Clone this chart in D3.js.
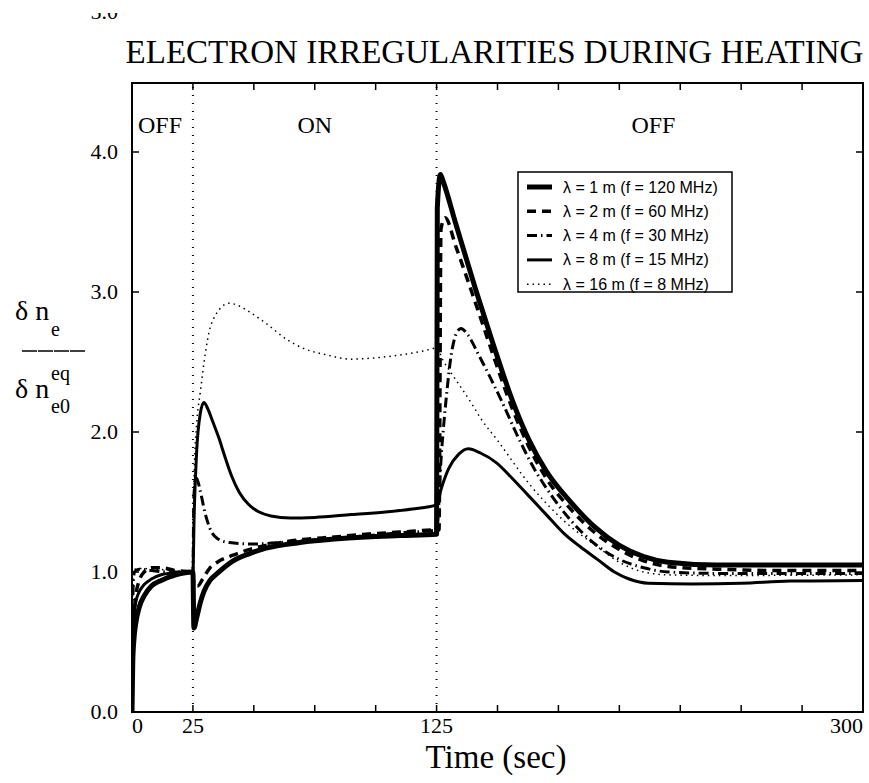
<!DOCTYPE html>
<html>
<head>
<meta charset="utf-8">
<script src="https://cdn.jsdelivr.net/npm/d3@7"></script>
<style>
  body { margin: 0; background: #fff; }
  svg { display: block; }
</style>
</head>
<body>
<div id="view"></div>
<script>
'use strict';

// time (sec) / dn_e / dn_e0^eq
const lambda1 = [[0, 0], [0.3, 0.35], [0.8, 0.52], [1.5, 0.63], [3, 0.75], [5, 0.83], [8, 0.9], [12, 0.94], [18, 0.98], [25, 1.0],
  [25.4, 0.6], [26.5, 0.67], [28, 0.78], [29.5, 0.86], [32, 0.94], [35, 0.99], [41.5, 1.08], [48, 1.13], [55, 1.17], [69, 1.21],
  [83, 1.235], [96, 1.25], [110, 1.26], [125, 1.27],
  [125.3, 3.6], [126.6, 3.84], [127.5, 3.8], [133, 3.48], [141, 3.02], [148, 2.64], [156, 2.23], [163, 1.94], [170, 1.72],
  [180, 1.5], [190, 1.32], [200, 1.19], [210, 1.11], [220, 1.07], [240, 1.05], [270, 1.05], [300, 1.05]];

const lambda2 = [[0, 0], [0.3, 0.45], [0.8, 0.68], [1.5, 0.82], [3, 0.94], [5, 1.0], [8, 1.03], [12, 1.03], [18, 1.01], [25, 1.0],
  [25.4, 0.9], [27, 0.9], [29, 0.95], [32, 1.03], [35, 1.07], [41.5, 1.12], [48, 1.16], [55, 1.19], [69, 1.23], [83, 1.25],
  [96, 1.27], [110, 1.285], [125, 1.3],
  [126, 1.3], [126.8, 3.45], [128.5, 3.53], [133, 3.32], [141, 2.92], [148, 2.56], [156, 2.17], [163, 1.89], [170, 1.67],
  [180, 1.45], [190, 1.28], [200, 1.16], [210, 1.08], [220, 1.04], [240, 1.02], [270, 1.01], [300, 1.01]];

const lambda4 = [[0, 0], [0.2, 0.6], [0.5, 0.9], [1, 1.0], [3, 1.02], [8, 1.01], [15, 1.0], [25, 1.0],
  [25.4, 1.55], [26.5, 1.67], [28, 1.58], [30, 1.42], [32, 1.31], [35, 1.24], [40, 1.21], [50, 1.2], [60, 1.21], [75, 1.23],
  [90, 1.25], [110, 1.28], [125, 1.3],
  [127, 1.85], [129, 2.25], [131, 2.55], [133, 2.7], [135, 2.74], [138, 2.69], [142, 2.56], [147, 2.39], [152, 2.21],
  [158, 1.98], [165, 1.74], [172, 1.55], [180, 1.37], [190, 1.2], [200, 1.09], [210, 1.03], [220, 1.0], [240, 0.99], [300, 0.99]];

const lambda8 = [[0, 0], [0.3, 0.5], [0.8, 0.68], [1.5, 0.78], [3, 0.86], [5, 0.91], [8, 0.95], [12, 0.98], [18, 0.995], [25, 1.0],
  [25.5, 1.4], [26.5, 1.85], [28, 2.13], [29.5, 2.21], [31, 2.17], [33, 2.08], [35.6, 1.96], [38, 1.83], [41, 1.68], [44, 1.57],
  [48, 1.48], [52, 1.43], [57, 1.4], [65, 1.385], [75, 1.39], [90, 1.41], [105, 1.43], [115, 1.45], [125, 1.48],
  [127, 1.6], [130, 1.74], [134, 1.84], [138, 1.88], [143, 1.85], [149.6, 1.78], [156, 1.67], [163, 1.54], [170, 1.41],
  [177, 1.28], [184, 1.18], [191, 1.09], [198, 1.0], [204, 0.95], [212, 0.92], [230, 0.915], [250, 0.92], [270, 0.935], [300, 0.94]];

const lambda16 = [[0, 0], [0.2, 0.7], [0.5, 0.95], [1, 1.02], [4, 1.025], [10, 1.02], [18, 1.01], [25, 1.0],
  [25.5, 1.7], [26.5, 2.05], [28, 2.28], [30, 2.55], [31.7, 2.72], [33.5, 2.81], [35.6, 2.87], [39.8, 2.92], [44, 2.9],
  [48, 2.86], [54.7, 2.78], [63.6, 2.66], [70, 2.6], [80, 2.55], [90, 2.52], [100, 2.53], [110, 2.55], [120, 2.58], [125, 2.6],
  [127.7, 2.51], [133, 2.37], [139.5, 2.2], [143, 2.1], [150, 1.94], [163, 1.63], [177, 1.37], [191, 1.18], [201, 1.06],
  [210, 1.0], [220, 0.98], [240, 0.975], [300, 0.98]];

const legendLabels = ['λ = 1 m (f = 120 MHz)', 'λ = 2 m (f = 60 MHz)', 'λ = 4 m (f = 30 MHz)',
  'λ = 8 m (f = 15 MHz)', 'λ = 16 m (f = 8 MHz)'];
const xTicks = [0, 25, 50, 75, 100, 125, 150, 175, 200, 225, 250, 275, 300];
const xTickLabels = [0, 25, 125, 300];
const yTicks = [0, 1, 2, 3, 4, 5];
const phaseTimes = [25, 125];
const phaseLabels = [['OFF', 0], ['ON', 75], ['OFF', 214]];

const size = { w: 869, h: 783 };
const frame = { left: 132, right: 863, top: 83, bottom: 712 };

// one style per series, same order as the legend
const styles = [
  { width: 5, dash: null },
  { width: 3.5, dash: '9,6' },
  { width: 3, dash: '10,4,1.5,4' },
  { width: 3, dash: null },
  { width: 1.5, dash: '1.5,4' }
];
const series = [lambda1, lambda2, lambda4, lambda8, lambda16];

const x = d3.scaleLinear().domain([0, 300]).range([frame.left, frame.right]);
const y = d3.scaleLinear().domain([0, 5]).range([frame.bottom, 12]);

const serif = '"Liberation Serif", "Times New Roman", serif';
const sans = '"Liberation Sans", Arial, sans-serif';

const svg = d3.select('#view').append('svg')
  .attr('width', size.w)
  .attr('height', size.h);

const defs = svg.append('defs');
defs.append('clipPath').attr('id', 'plotClip')
  .append('rect')
  .attr('x', frame.left).attr('y', frame.top)
  .attr('width', frame.right - frame.left).attr('height', frame.bottom - frame.top);
defs.append('clipPath').attr('id', 'topClip')
  .append('rect')
  .attr('x', 0).attr('y', 13).attr('width', frame.left).attr('height', frame.bottom);

// title
svg.append('text')
  .attr('x', 494.5).attr('y', 63)
  .attr('text-anchor', 'middle')
  .attr('font-family', serif).attr('font-size', 33)
  .text('ELECTRON IRREGULARITIES DURING HEATING');

// phase separators
svg.selectAll('line.phase')
  .data(phaseTimes)
  .enter()
  .append('line')
  .attr('class', 'phase')
  .attr('x1', d => x(d)).attr('x2', d => x(d))
  .attr('y1', frame.bottom).attr('y2', frame.top)
  .attr('stroke', '#000').attr('stroke-width', 2)
  .attr('stroke-dasharray', '1,7');

svg.selectAll('text.phase')
  .data(phaseLabels)
  .enter()
  .append('text')
  .attr('class', 'phase')
  .attr('x', d => d[1] === 0 ? frame.left + 6 : x(d[1]))
  .attr('y', 133)
  .attr('text-anchor', d => d[1] === 0 ? 'start' : 'middle')
  .attr('font-family', serif).attr('font-size', 24)
  .text(d => d[0]);

// curves
const line = d3.line()
  .x(d => x(d[0]))
  .y(d => y(d[1]))
  .curve(d3.curveMonotoneX);

const gCurves = svg.append('g').attr('clip-path', 'url(#plotClip)');
gCurves.selectAll('path')
  .data(series)
  .enter()
  .append('path')
  .attr('d', line)
  .attr('fill', 'none')
  .attr('stroke', '#000')
  .attr('stroke-width', (d, i) => styles[i].width)
  .attr('stroke-dasharray', (d, i) => styles[i].dash)
  .attr('stroke-linejoin', 'round');

// frame and ticks
svg.append('rect')
  .attr('x', frame.left).attr('y', frame.top)
  .attr('width', frame.right - frame.left).attr('height', frame.bottom - frame.top)
  .attr('fill', 'none').attr('stroke', '#000').attr('stroke-width', 2);

const tickLen = 7;
const gTicks = svg.append('g').attr('stroke', '#000').attr('stroke-width', 1.5);
xTicks.forEach(t => {
  gTicks.append('line').attr('x1', x(t)).attr('x2', x(t)).attr('y1', frame.bottom).attr('y2', frame.bottom - tickLen);
  gTicks.append('line').attr('x1', x(t)).attr('x2', x(t)).attr('y1', frame.top).attr('y2', frame.top + tickLen);
});
yTicks.filter(v => y(v) > frame.top).forEach(v => {
  gTicks.append('line').attr('x1', frame.left).attr('x2', frame.left + tickLen).attr('y1', y(v)).attr('y2', y(v));
  gTicks.append('line').attr('x1', frame.right).attr('x2', frame.right - tickLen).attr('y1', y(v)).attr('y2', y(v));
});

svg.selectAll('text.xtick')
  .data(xTickLabels)
  .enter()
  .append('text')
  .attr('class', 'xtick')
  .attr('x', d => x(d))
  .attr('y', 733)
  .attr('text-anchor', d => d === 0 ? 'start' : d === 300 ? 'end' : 'middle')
  .attr('font-family', serif).attr('font-size', 22)
  .text(d => d);

svg.append('g').attr('clip-path', 'url(#topClip)')
  .selectAll('text')
  .data(yTicks)
  .enter()
  .append('text')
  .attr('x', 118)
  .attr('y', d => y(d))
  .attr('dy', '0.33em')
  .attr('text-anchor', 'end')
  .attr('font-family', serif).attr('font-size', 22)
  .text(d => d.toFixed(1));

// axis titles
svg.append('text')
  .attr('x', 496).attr('y', 768)
  .attr('text-anchor', 'middle')
  .attr('font-family', serif).attr('font-size', 33)
  .text('Time (sec)');

const gYLabel = svg.append('g').attr('font-family', serif);
gYLabel.append('text').attr('x', 15).attr('y', 320).attr('font-size', 28).text('δ n');
gYLabel.append('text').attr('x', 51).attr('y', 336).attr('font-size', 20).text('e');
// fraction bar, drawn as four short strokes
gYLabel.append('line')
  .attr('x1', 22).attr('x2', 86).attr('y1', 351).attr('y2', 351)
  .attr('stroke', '#000').attr('stroke-width', 1.6)
  .attr('stroke-dasharray', '15,1');
gYLabel.append('text').attr('x', 15).attr('y', 398).attr('font-size', 28).text('δ n');
gYLabel.append('text').attr('x', 51).attr('y', 380).attr('font-size', 20).text('eq');
gYLabel.append('text').attr('x', 51).attr('y', 413).attr('font-size', 20).text('e0');

// legend
const legend = { x: 518, y: 172, w: 214, h: 120, row0: 187, rowH: 24.3, x1: 527, x2: 552, xText: 563 };
const gLegend = svg.append('g');
gLegend.append('rect')
  .attr('x', legend.x).attr('y', legend.y)
  .attr('width', legend.w).attr('height', legend.h)
  .attr('fill', '#fff').attr('stroke', '#000').attr('stroke-width', 1.5);

legendLabels.forEach((label, i) => {
  const yRow = legend.row0 + i * legend.rowH;
  gLegend.append('line')
    .attr('x1', legend.x1).attr('x2', legend.x2)
    .attr('y1', yRow).attr('y2', yRow)
    .attr('stroke', '#000')
    .attr('stroke-width', styles[i].width)
    .attr('stroke-dasharray', styles[i].dash);
  gLegend.append('text')
    .attr('x', legend.xText).attr('y', yRow + 5.5)
    .attr('font-family', sans).attr('font-size', 16)
    .text(label);
});
</script>
</body>
</html>
